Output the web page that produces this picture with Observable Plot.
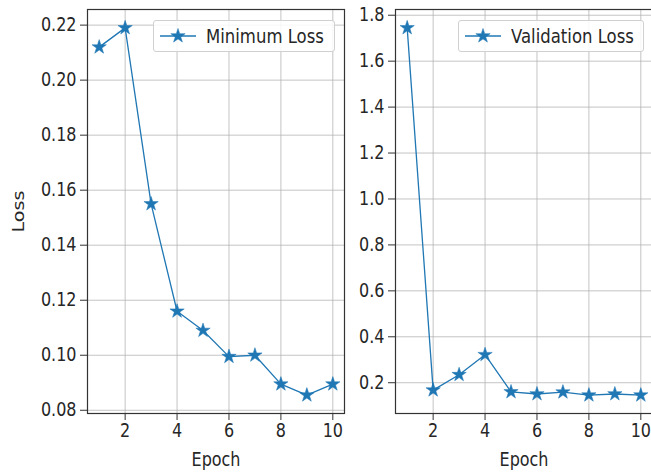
<!DOCTYPE html>
<html>
<head>
<meta charset="utf-8">
<script src="https://cdn.jsdelivr.net/npm/d3@7"></script>
<script src="https://cdn.jsdelivr.net/npm/@observablehq/plot@0.6"></script>
<style>
  html, body { margin: 0; padding: 0; background: #fff; overflow: hidden; width: 651px; height: 474px; }
  #wrap { position: relative; width: 651px; height: 474px; font-family: "DejaVu Sans", sans-serif; overflow: hidden; }
  .panel { position: absolute; top: 0; }
  .panel svg { max-width: none !important; }
  .legend { position: absolute; box-sizing: border-box; border: 1px solid #d0d0d0; border-radius: 3px;
            background: rgba(255,255,255,0.85); display: flex; align-items: center; font-size: 16.5px; color: #262626; }
  .legend svg { margin-left: 6px; margin-right: 10px; }
  .legend span { display: inline-block; transform: scaleY(1.2); transform-origin: center; }
</style>
</head>
<body>
<div id="wrap"></div>
<script>
const epochs = [1, 2, 3, 4, 5, 6, 7, 8, 9, 10];
const minimumLoss = [0.212, 0.219, 0.155, 0.116, 0.109, 0.0995, 0.100, 0.0895, 0.0855, 0.0895];
const validationLoss = [1.745, 0.168, 0.235, 0.322, 0.160, 0.151, 0.159, 0.146, 0.151, 0.146];
const xTicks = [2, 4, 6, 8, 10];
const leftYTicks = [0.08, 0.10, 0.12, 0.14, 0.16, 0.18, 0.20, 0.22];
const rightYTicks = [0.2, 0.4, 0.6, 0.8, 1.0, 1.2, 1.4, 1.6, 1.8];
const seriesNames = ["Minimum Loss", "Validation Loss"];

const blue = "#1f77b4";
const wrap = document.getElementById("wrap");

function pad(values) {
  const lo = d3.min(values), hi = d3.max(values), m = (hi - lo) * 0.05;
  return [lo - m, hi + m];
}

function stretchText(svg) {
  svg.querySelectorAll("text").forEach(t => {
    const tr = t.getAttribute("transform") || "";
    const s = /rotate/.test(tr) ? " scale(1.2,1)" : " scale(1,1.2)";
    t.setAttribute("transform", tr + s);
  });
}

function panel(values, yTicks, yFmt, yLabel, opts) {
  const data = epochs.map((e, i) => ({epoch: e, loss: values[i]}));
  const svg = Plot.plot({
    width: opts.width,
    height: 474,
    marginLeft: opts.marginLeft,
    marginRight: opts.marginRight,
    marginTop: 9,
    marginBottom: 61,
    style: {fontFamily: "DejaVu Sans, sans-serif", fontSize: "16px", color: "#262626", background: "transparent", overflow: "visible", maxWidth: "none"},
    x: {domain: pad(epochs), ticks: xTicks},
    y: {domain: pad(values), ticks: yTicks},
    marks: [
      Plot.gridX(xTicks, {stroke: "#b0b0b0", strokeOpacity: 0.75, strokeWidth: 1}),
      Plot.gridY(yTicks, {stroke: "#b0b0b0", strokeOpacity: 0.75, strokeWidth: 1}),
      Plot.line(data, {x: "epoch", y: "loss", stroke: blue, strokeWidth: 1.3}),
      Plot.dot(data, {x: "epoch", y: "loss", symbol: "star", fill: blue, stroke: blue, strokeWidth: 0.5, r: 4.5}),
      Plot.frame({stroke: "#333", strokeWidth: 1.2}),
      Plot.axisX(xTicks, {tickSize: 7, tickPadding: 3, label: "Epoch", labelAnchor: "center", labelArrow: "none", labelOffset: 52, stroke: "#333"}),
      Plot.axisY(yTicks, {tickSize: 7, tickPadding: 4, tickFormat: yFmt, label: yLabel, labelAnchor: "center", labelArrow: "none", labelOffset: 75, stroke: "#333"})
    ]
  });
  stretchText(svg);
  return svg;
}

const left = panel(minimumLoss, leftYTicks, d3.format(".2f"), "Loss", {width: 350, marginLeft: 87, marginRight: 6});
const leftDiv = document.createElement("div");
leftDiv.className = "panel";
leftDiv.style.left = "0px";
leftDiv.style.width = "350px";
leftDiv.appendChild(left);
wrap.appendChild(leftDiv);

const right = panel(validationLoss, rightYTicks, d3.format(".1f"), null, {width: 315, marginLeft: 50, marginRight: 8});
const rightDiv = document.createElement("div");
rightDiv.className = "panel";
rightDiv.style.left = "345px";
rightDiv.style.width = "315px";
rightDiv.appendChild(right);
wrap.appendChild(rightDiv);

function legend(name, leftPx, widthPx) {
  const div = document.createElement("div");
  div.className = "legend";
  div.style.left = leftPx + "px";
  div.style.top = "20px";
  div.style.width = widthPx + "px";
  div.style.height = "32px";
  const starPath = d3.symbol(d3.symbolStar, Math.PI * 4.5 * 4.5)();
  div.innerHTML = `<svg width="36" height="16" viewBox="0 0 36 16"><line x1="0" x2="36" y1="8" y2="8" stroke="${blue}" stroke-width="1.3"/><path d="${starPath}" transform="translate(18,8)" fill="${blue}" stroke="${blue}" stroke-width="0.5"/></svg><span>${name}</span>`;
  wrap.appendChild(div);
}
legend(seriesNames[0], 153, 182);
legend(seriesNames[1], 458, 186);
</script>
</body>
</html>
